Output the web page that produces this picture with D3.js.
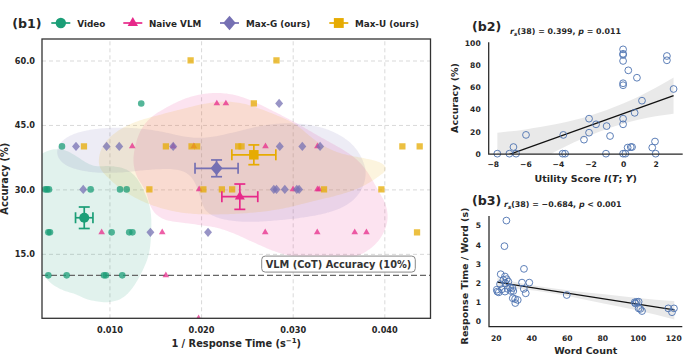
<!DOCTYPE html>
<html>
<head>
<meta charset="utf-8">
<script src="https://cdn.jsdelivr.net/npm/d3@7"></script>
<style>
  body { margin: 0; background: #fff; }
  svg text { font-family: "DejaVu Sans", sans-serif; font-weight: bold; fill: #262626; }
</style>
</head>
<body>
<svg id="chart" width="700" height="356"></svg>
<script>
// ---- panel b1 data: accuracy vs 1/response time ----
const methods = ["Video", "Naive VLM", "Max-G (ours)", "Max-U (ours)"];
const colors = ["#1b9e77", "#e7298a", "#7570b3", "#e6ab02"];

const videoPts = [
  [0.01347, 50], [0.00482, 40],
  [0.00297, 30], [0.00318, 30], [0.0034, 30], [0.00795, 30], [0.01115, 30], [0.01188, 30],
  [0.00333, 20], [0.00351, 20], [0.01024, 20], [0.01216, 20], [0.01251, 20],
  [0.00333, 10], [0.00533, 10], [0.0094, 10], [0.00962, 10], [0.0114, 10]
];
const naivePts = [
  [0.02172, 50], [0.02271, 50],
  [0.01249, 40], [0.01696, 40], [0.01921, 40], [0.02703, 40], [0.0327, 40],
  [0.01979, 30], [0.03004, 30], [0.0327, 30], [0.03288, 30],
  [0.00915, 20], [0.01576, 20], [0.0270, 20], [0.03268, 20], [0.03677, 20], [0.03805, 20],
  [0.01616, 10], [0.01973, 0]
];
const maxGPts = [
  [0.02852, 50],
  [0.00635, 40], [0.00969, 40], [0.01107, 40], [0.01696, 40], [0.02859, 40], [0.03105, 40], [0.03299, 40],
  [0.00714, 30], [0.02794, 30], [0.02823, 30], [0.02914, 30], [0.03045, 30], [0.0307, 30],
  [0.01447, 20], [0.02076, 20]
];
const maxUPts = [
  [0.01886, 60], [0.02823, 60], [0.02576, 50],
  [0.00722, 40], [0.01616, 40], [0.01896, 40], [0.01957, 40], [0.02405, 40], [0.02442, 40], [0.04197, 40], [0.04386, 40],
  [0.01436, 30], [0.02025, 30], [0.02227, 30], [0.02339, 30], [0.03342, 30], [0.03968, 30],
  [0.04357, 20]
];
const meanRate = [0.00725, 0.02423, 0.02169, 0.02576];
const meanAcc = [23.4, 28.3, 34.9, 38.05];
const errRate = [0.00095, 0.00196, 0.00235, 0.0024];
const errAcc = [2.5, 2.95, 1.95, 2.3];
const cotAcc = 10;
const b1XTicks = [0.01, 0.02, 0.03, 0.04];
const b1YTicks = [15, 30, 45, 60];

// ---- panel b2 data: accuracy vs utility score ----
const utilScore = [-7.72, -6.98, -6.73, -6.57, -5.96, -3.71, -3.56, -3.67, -2.40, -2.09, -2.09, -1.66, -1.01, -1.05, -0.80,
  0.0, 0.0, 0.0, 0.0, 0.0, 0.0, 0.0, 0.0, 0.0,
  0.14, 0.32, 0.28, 0.47, 0.55, 0.85, 0.71, 1.16, 1.79, 1.96, 2.0, 2.69, 2.69, 3.10];
const utilAcc = [0, 0, 6, 0, 17, 0, 0, 17, 12.7, 31.7, 19, 26.6, 25, 0, 16,
  94.5, 90.5, 89.5, 84, 63.8, 62, 31.7, 26.6, 0,
  0, 75.5, 5.5, 6, 6, 68.8, 37, 48, 5.5, 11, 0, 88.5, 84.6, 58.6];
const utilFitX = [-7.72, 3.10];
const utilFitY = [-4.6, 52.6];
const utilBandX = [-7.72, -6, -4, -2, 0, 2, 3.10];
const utilBandLo = [-28, -14, 3, 16.6, 27, 33.8, 36.1];
const utilBandHi = [19, 22, 27, 34.6, 45.4, 59.8, 69.1];
const b2XTicks = [-8, -6, -4, -2, 0, 2];
const b2YTicks = [0, 20, 40, 60, 80, 100];

// ---- panel b3 data: response time per word vs word count ----
const wordCount = [26.0, 24.9, 35.9, 22.8, 25.2, 26.2, 24.3, 27.1, 25.4, 34.8, 38.9, 22.4, 28.1, 29.4, 26.8, 35.8,
  20.6, 23.4, 20.9, 21.7, 25.2, 28.6, 29.9, 36.9, 29.6, 30.9, 32.4, 31.0, 60.0,
  98.3, 99.4, 100.5, 100.5, 101.4, 102.4, 117.2, 120.4, 119.3, 98.6];
const rtPerWord = [5.26, 3.92, 2.73, 2.45, 2.33, 2.19, 2.15, 2.06, 1.98, 2.01, 2.01, 1.93, 1.75, 1.72, 1.68, 1.68,
  1.64, 1.66, 1.54, 1.5, 1.54, 1.57, 1.57, 1.45, 1.19, 1.15, 1.1, 0.94, 1.36,
  0.98, 1.0, 1.01, 0.66, 0.63, 0.52, 0.66, 0.66, 0.46, 0.92];
const wcFitX = [20.9, 120.6];
const wcFitY = [2.03, 0.58];
const wcBandX = [20.9, 35, 50, 65, 80, 100, 120.6];
const wcBandLo = [1.80, 1.66, 1.48, 1.22, 0.93, 0.55, 0.08];
const wcBandHi = [2.25, 1.96, 1.74, 1.56, 1.41, 1.21, 1.04];
const b3XTicks = [20, 40, 60, 80, 100, 120];
const b3YTicks = [0, 1, 2, 3, 4, 5];

const svg = d3.select("#chart");
const defs = svg.append("defs");
const fmtMinus = d => d3.format("d")(d).replace("-", "\u2212");

// marker shapes, s = half size
function markerPath(i, s) {
  if (i == 0) return d3.symbol(d3.symbolCircle, Math.PI * s * s)();
  if (i == 1) return d3.symbol(d3.symbolTriangle, Math.sqrt(3) * s * s)();
  if (i == 2) {
    let hw = s * 1.2, hh = s * 1.4;
    return `M0,${-hh}L${hw},0L0,${hh}L${-hw},0Z`;
  }
  return d3.symbol(d3.symbolSquare, Math.pow(2 * s * 0.95, 2))();
}

// ================= panel b1 =================
const m1 = { left: 42, right: 430.5, top: 39, bottom: 318.3 };
const x1 = d3.scaleLinear().domain([0.00264, 0.04504]).range([m1.left, m1.right]);
const y1 = d3.scaleLinear().domain([0, 65]).range([m1.bottom, m1.top]);

defs.append("clipPath").attr("id", "clip1").append("rect")
  .attr("x", m1.left).attr("y", m1.top)
  .attr("width", m1.right - m1.left).attr("height", m1.bottom - m1.top);

// grid
svg.append("g")
  .attr("transform", `translate(0,${m1.bottom})`)
  .call(d3.axisBottom(x1).tickValues(b1XTicks).tickSize(-(m1.bottom - m1.top)).tickFormat(""))
  .call(g => g.select(".domain").remove())
  .selectAll("line").attr("stroke", "#cfcfcf").attr("stroke-width", 0.8).attr("stroke-dasharray", "4,3");
svg.append("g")
  .attr("transform", `translate(${m1.left},0)`)
  .call(d3.axisLeft(y1).tickValues(b1YTicks).tickSize(-(m1.right - m1.left)).tickFormat(""))
  .call(g => g.select(".domain").remove())
  .selectAll("line").attr("stroke", "#cfcfcf").attr("stroke-width", 0.8).attr("stroke-dasharray", "4,3");

const groups = [videoPts, naivePts, maxGPts, maxUPts];
const blobFrac = [0.5, 0.52, 0.46, 0.44];
const bwScale = 1.0;

// kde blobs
let blobs = svg.append("g").attr("clip-path", "url(#clip1)");
groups.forEach((pts, i) => {
  const px = pts.map(d => [x1(d[0]), y1(d[1])]);
  const n = px.length;
  const sdx = d3.deviation(px, d => d[0]), sdy = d3.deviation(px, d => d[1]);
  const bw = bwScale * Math.pow(n, -1 / 6) * sdx;
  const sy = sdx / sdy;
  const pad = 140;
  const ox = m1.left - pad, oy = m1.top - pad;
  const gen = d3.contourDensity()
    .x(d => d[0] - ox)
    .y(d => (d[1] - oy) * sy)
    .size([m1.right - m1.left + 2 * pad, (m1.bottom - m1.top + 2 * pad) * sy])
    .cellSize(2)
    .bandwidth(bw);
  const all = gen.thresholds(60)(px);
  const maxv = d3.max(all, c => c.value);
  const cont = gen.thresholds([maxv * blobFrac[i]])(px);
  const proj = d3.geoTransform({ point: function (x, y) { this.stream.point(x + ox, y / sy + oy); } });
  blobs.append("path")
    .attr("d", d3.geoPath(proj)(cont[0]))
    .style("fill", colors[i])
    .style("fill-opacity", 0.13)
    .style("stroke", "none");
});

// reference line
svg.append("line")
  .attr("x1", m1.left).attr("x2", m1.right)
  .attr("y1", y1(cotAcc)).attr("y2", y1(cotAcc))
  .style("stroke", "#666").style("stroke-width", 1.4).style("stroke-dasharray", "6,3");

// scatter points
let pointsG = svg.append("g").attr("clip-path", "url(#clip1)");
groups.forEach((pts, i) => {
  pointsG.selectAll(null)
    .data(pts)
    .join("path")
    .attr("d", markerPath(i, 3.3))
    .attr("transform", d => `translate(${x1(d[0])},${y1(d[1])})`)
    .style("fill", colors[i])
    .style("fill-opacity", 0.75);
});

// means with error bars
methods.forEach((name, i) => {
  let g = svg.append("g").style("stroke", colors[i]).style("stroke-width", 1.7).style("fill", "none");
  let cx = x1(meanRate[i]), cy = y1(meanAcc[i]);
  let xl = x1(meanRate[i] - errRate[i]), xr = x1(meanRate[i] + errRate[i]);
  let yt = y1(meanAcc[i] + errAcc[i]), yb = y1(meanAcc[i] - errAcc[i]);
  let cap = 5.5;
  g.append("line").attr("x1", xl).attr("x2", xr).attr("y1", cy).attr("y2", cy);
  g.append("line").attr("x1", cx).attr("x2", cx).attr("y1", yt).attr("y2", yb);
  [xl, xr].forEach(x => g.append("line").attr("x1", x).attr("x2", x).attr("y1", cy - cap).attr("y2", cy + cap));
  [yt, yb].forEach(y => g.append("line").attr("x1", cx - cap).attr("x2", cx + cap).attr("y1", y).attr("y2", y));
  svg.append("path")
    .attr("d", markerPath(i, 5))
    .attr("transform", `translate(${cx},${cy})`)
    .style("fill", colors[i]);
});

// reference label
let refLabel = svg.append("g");
let refText = refLabel.append("text")
  .attr("x", x1(0.035)).attr("y", y1(12.6))
  .attr("text-anchor", "middle").attr("dy", "0.35em")
  .style("font-size", "9.8px").style("fill", "#333")
  .text("VLM (CoT) Accuracy (10%)");
let bb = refText.node().getBBox();
refLabel.insert("rect", "text")
  .attr("x", bb.x - 4).attr("y", bb.y - 2.5)
  .attr("width", bb.width + 8).attr("height", bb.height + 5)
  .attr("rx", 3.5)
  .style("fill", "#fff").style("fill-opacity", 0.85)
  .style("stroke", "#888").style("stroke-width", 1);

// frame
svg.append("rect")
  .attr("x", m1.left).attr("y", m1.top)
  .attr("width", m1.right - m1.left).attr("height", m1.bottom - m1.top)
  .style("fill", "none").style("stroke", "#333").style("stroke-width", 1.3);

// axes ticks
svg.append("g")
  .attr("transform", `translate(0,${m1.bottom})`)
  .call(d3.axisBottom(x1).tickValues(b1XTicks).tickSize(0).tickPadding(9.2).tickFormat(d3.format(".3f")))
  .call(g => g.select(".domain").remove())
  .selectAll("text").attr("font-family", null).style("font-size", "8.2px");
svg.append("g")
  .attr("transform", `translate(${m1.left},0)`)
  .call(d3.axisLeft(y1).tickValues(b1YTicks).tickSize(0).tickPadding(7).tickFormat(d3.format(".1f")))
  .call(g => g.select(".domain").remove())
  .selectAll("text").style("font-size", "8.2px");

// axis titles
let xt1 = svg.append("text")
  .attr("x", (m1.left + m1.right) / 2).attr("y", 347)
  .attr("text-anchor", "middle").style("font-size", "9.8px");
xt1.append("tspan").text("1 / Response Time (s");
xt1.append("tspan").attr("dy", -4).style("font-size", "7px").text("\u22121");
xt1.append("tspan").attr("dy", 4).text(")");

svg.append("text")
  .attr("transform", `translate(8.3,${(m1.top + m1.bottom) / 2}) rotate(-90)`)
  .attr("text-anchor", "middle").style("font-size", "9.8px")
  .text("Accuracy (%)");

svg.append("text").attr("x", 12.3).attr("y", 27.5).style("font-size", "12.6px").text("(b1)");

// legend
const legX = [60.8, 132.8, 229.5, 338.8];
const legTextX = [77.3, 149, 246, 355];
methods.forEach((name, i) => {
  svg.append("line")
    .attr("x1", legX[i] - 9.5).attr("x2", legX[i] + 9.5)
    .attr("y1", 23).attr("y2", 23)
    .style("stroke", colors[i]).style("stroke-width", 1.7);
  svg.append("path")
    .attr("d", markerPath(i, 5.2))
    .attr("transform", `translate(${legX[i]},23)`)
    .style("fill", colors[i]);
  svg.append("text")
    .attr("x", legTextX[i]).attr("y", 26.5)
    .style("font-size", "8.8px")
    .text(name);
});

// ================= regression panels =================
function regPanel(opt) {
  const x = d3.scaleLinear().domain(opt.xDomain).range([opt.left, opt.right]);
  const y = d3.scaleLinear().domain(opt.yDomain).range([opt.bottom, opt.top]);
  const cid = "clip" + opt.id;
  defs.append("clipPath").attr("id", cid).append("rect")
    .attr("x", opt.left).attr("y", opt.top)
    .attr("width", opt.right - opt.left).attr("height", opt.bottom - opt.top);

  const band = opt.bandX.map((d, i) => [d, opt.bandLo[i], opt.bandHi[i]]);
  svg.append("path")
    .datum(band)
    .attr("clip-path", `url(#${cid})`)
    .attr("d", d3.area().x(d => x(d[0])).y0(d => y(d[1])).y1(d => y(d[2])).curve(d3.curveMonotoneX))
    .style("fill", "#000").style("fill-opacity", 0.085);

  svg.append("path")
    .datum(opt.fitX.map((d, i) => [d, opt.fitY[i]]))
    .attr("clip-path", `url(#${cid})`)
    .attr("d", d3.line().x(d => x(d[0])).y(d => y(d[1])))
    .style("fill", "none").style("stroke", "#111").style("stroke-width", 1.3);

  svg.append("g").selectAll("circle")
    .data(opt.xs.map((d, i) => [d, opt.ys[i]]))
    .join("circle")
    .attr("cx", d => x(d[0])).attr("cy", d => y(d[1]))
    .attr("r", 3.4)
    .style("fill", "none").style("stroke", "#4c72b0").style("stroke-width", 0.9);

  // spines
  svg.append("path")
    .attr("d", `M${opt.left},${opt.top}V${opt.bottom}H${opt.right}`)
    .style("fill", "none").style("stroke", "#262626").style("stroke-width", 1.25);

  svg.append("g")
    .attr("transform", `translate(0,${opt.bottom})`)
    .call(d3.axisBottom(x).tickValues(opt.xTicks).tickSize(0).tickPadding(opt.xPad).tickFormat(fmtMinus))
    .call(g => g.select(".domain").remove())
    .selectAll("text").style("font-size", "7.6px");
  svg.append("g")
    .attr("transform", `translate(${opt.left},0)`)
    .call(d3.axisLeft(y).tickValues(opt.yTicks).tickSize(0).tickPadding(8).tickFormat(fmtMinus))
    .call(g => g.select(".domain").remove())
    .selectAll("text").style("font-size", "7.6px");

  svg.append("text")
    .attr("transform", `translate(${opt.yLabelX},${opt.yLabelY}) rotate(-90)`)
    .attr("text-anchor", "middle").style("font-size", "9.5px")
    .text(opt.yLabel);

  svg.append("text").attr("x", 472).attr("y", opt.tagY).style("font-size", "12.6px").text(opt.tag);

  let st = svg.append("text").attr("x", opt.statX).attr("y", opt.statY).style("font-size", "7.9px");
  st.append("tspan").style("font-style", "italic").text("r");
  st.append("tspan").attr("dy", 2).style("font-size", "5.6px").style("font-style", "italic").text("s");
  st.append("tspan").attr("dy", -2).text(`(38) = ${opt.rs}, `);
  st.append("tspan").style("font-style", "italic").text("p");
  st.append("tspan").text(` ${opt.p}`);
  return x;
}

regPanel({
  id: 2, left: 488.7, right: 682.7, top: 42.3, bottom: 154,
  xDomain: [-8.25, 3.66], yDomain: [-0.3, 100.9],
  xs: utilScore, ys: utilAcc, fitX: utilFitX, fitY: utilFitY,
  bandX: utilBandX, bandLo: utilBandLo, bandHi: utilBandHi,
  xTicks: b2XTicks, yTicks: b2YTicks, xPad: 8.1,
  yLabel: "Accuracy (%)", yLabelX: 458, yLabelY: 98,
  tag: "(b2)", tagY: 31, statX: 510, statY: 34, rs: "0.399", p: "= 0.011"
});
let xt2 = svg.append("text")
  .attr("x", 585.7).attr("y", 181.8)
  .attr("text-anchor", "middle").style("font-size", "9.5px");
xt2.append("tspan").text("Utility Score ");
xt2.append("tspan").style("font-style", "italic").text("I");
xt2.append("tspan").text("(");
xt2.append("tspan").style("font-style", "italic").text("T");
xt2.append("tspan").text("; ");
xt2.append("tspan").style("font-style", "italic").text("Y");
xt2.append("tspan").text(")");

regPanel({
  id: 3, left: 489, right: 682.3, top: 216, bottom: 326.7,
  xDomain: [16.2, 125.1], yDomain: [-0.3, 5.5],
  xs: wordCount, ys: rtPerWord, fitX: wcFitX, fitY: wcFitY,
  bandX: wcBandX, bandLo: wcBandLo, bandHi: wcBandHi,
  xTicks: b3XTicks, yTicks: b3YTicks, xPad: 8.9,
  yLabel: "Response Time / Word (s)", yLabelX: 468, yLabelY: 276,
  tag: "(b3)", tagY: 204.5, statX: 504, statY: 207.3, rs: "\u22120.684", p: "< 0.001"
});
svg.append("text")
  .attr("x", 585.7).attr("y", 354)
  .attr("text-anchor", "middle").style("font-size", "9.5px")
  .text("Word Count");
</script>
</body>
</html>
